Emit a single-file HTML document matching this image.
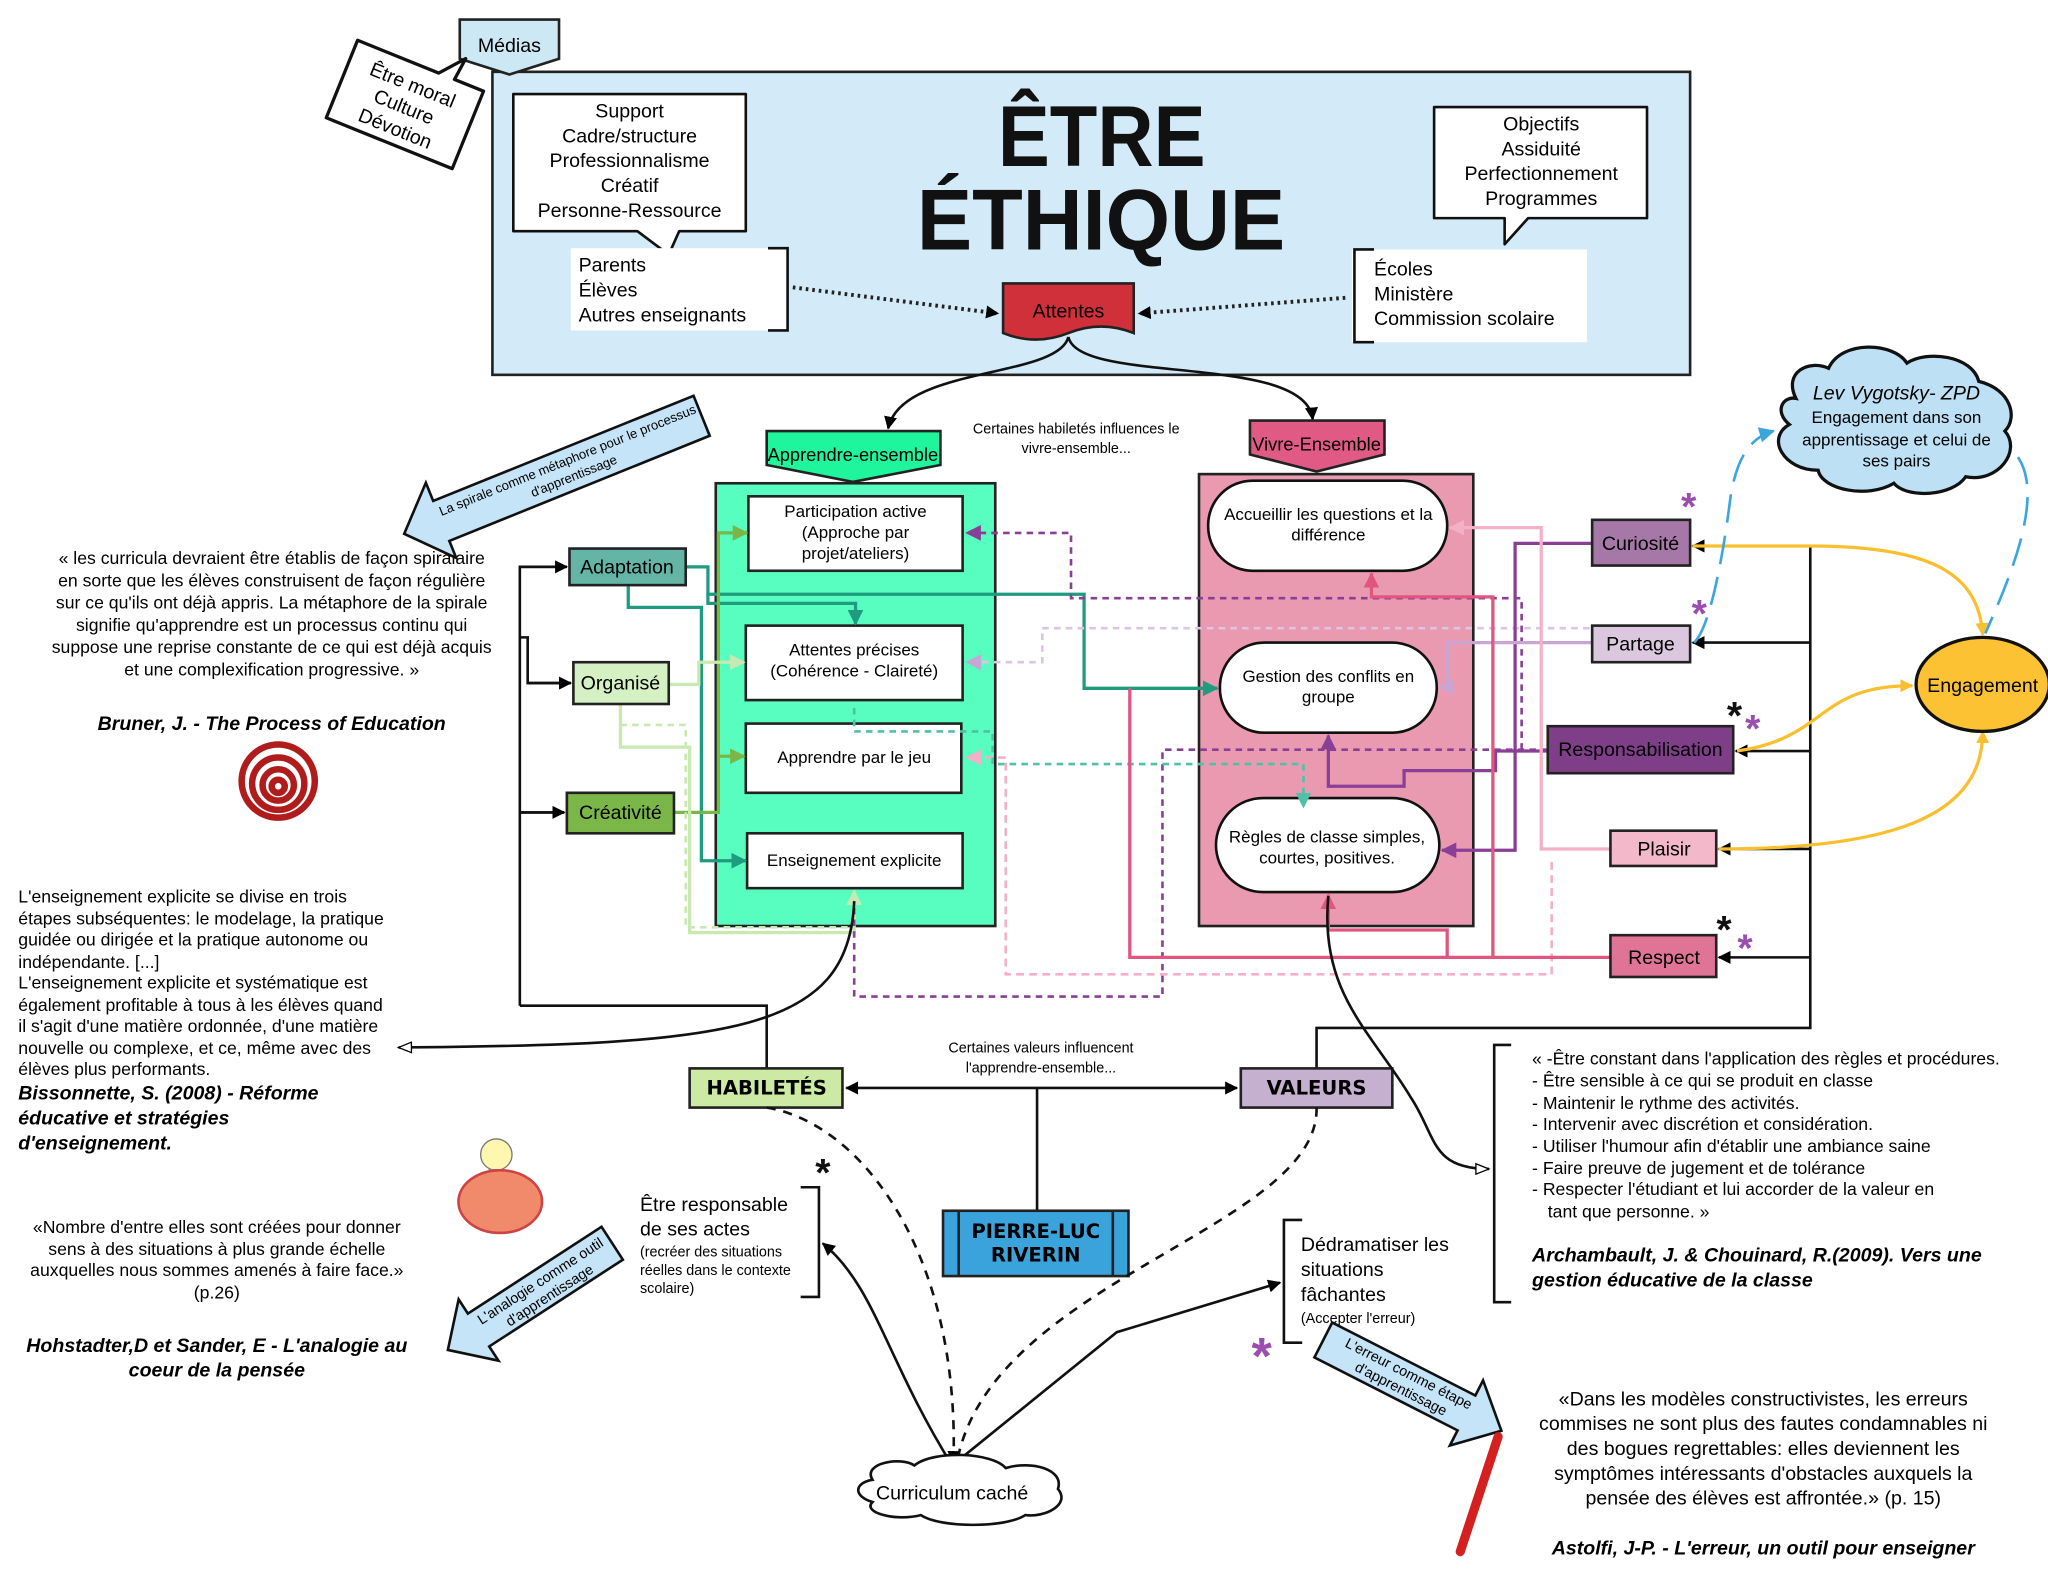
<!DOCTYPE html>
<html><head><meta charset="utf-8"><style>
html,body{margin:0;padding:0;background:#fff;}
svg{display:block;font-family:"Liberation Sans",Arial,sans-serif;}
</style></head><body>
<svg width="2048" height="1583" viewBox="0 0 1568 1212" xmlns="http://www.w3.org/2000/svg">
<defs>
<marker id="ak" markerWidth="10" markerHeight="10" refX="9" refY="5" orient="auto" markerUnits="userSpaceOnUse"><path d="M0,0 L10,5 L0,10 z" fill="#000"/></marker>
<marker id="ao" markerWidth="12" markerHeight="10" refX="11" refY="5" orient="auto" markerUnits="userSpaceOnUse"><path d="M1,1 L11,5 L1,9 z" fill="#fff" stroke="#000"/></marker>
<marker id="ay" markerWidth="10" markerHeight="10" refX="9" refY="5" orient="auto" markerUnits="userSpaceOnUse"><path d="M0,0 L10,5 L0,10 z" fill="#f9bf2e"/></marker>
<marker id="at" markerWidth="12" markerHeight="12" refX="11" refY="6" orient="auto" markerUnits="userSpaceOnUse"><path d="M0,0 L12,6 L0,12 z" fill="#1f9b80"/></marker>
<marker id="ag" markerWidth="12" markerHeight="12" refX="11" refY="6" orient="auto" markerUnits="userSpaceOnUse"><path d="M0,0 L12,6 L0,12 z" fill="#7ab648"/></marker>
<marker id="alg" markerWidth="12" markerHeight="12" refX="11" refY="6" orient="auto" markerUnits="userSpaceOnUse"><path d="M0,0 L12,6 L0,12 z" fill="#c9e9b3"/></marker>
<marker id="ap" markerWidth="12" markerHeight="12" refX="11" refY="6" orient="auto" markerUnits="userSpaceOnUse"><path d="M0,0 L12,6 L0,12 z" fill="#8a3f96"/></marker>
<marker id="alp" markerWidth="12" markerHeight="12" refX="11" refY="6" orient="auto" markerUnits="userSpaceOnUse"><path d="M0,0 L12,6 L0,12 z" fill="#c9a5d3"/></marker>
<marker id="ar" markerWidth="12" markerHeight="12" refX="11" refY="6" orient="auto" markerUnits="userSpaceOnUse"><path d="M0,0 L12,6 L0,12 z" fill="#e0567f"/></marker>
<marker id="apk" markerWidth="12" markerHeight="12" refX="11" refY="6" orient="auto" markerUnits="userSpaceOnUse"><path d="M0,0 L12,6 L0,12 z" fill="#f5b0c8"/></marker>
<marker id="atl" markerWidth="12" markerHeight="12" refX="11" refY="6" orient="auto" markerUnits="userSpaceOnUse"><path d="M0,0 L12,6 L0,12 z" fill="#4fc1a6"/></marker>
<marker id="ab" markerWidth="12" markerHeight="12" refX="11" refY="6" orient="auto" markerUnits="userSpaceOnUse"><path d="M0,0 L12,6 L0,12 z" fill="#3aa6dd"/></marker>
</defs>

<rect x="377" y="55" width="917" height="232" fill="#d3eaf8" stroke="#222" stroke-width="2"/>
<path d="M352,15 L428,15 L428,45 L390,57 L352,45 z" fill="#cde8f5" stroke="#222" stroke-width="2"/>
<text x="390" y="40" font-size="15" text-anchor="middle">Médias</text>
<g transform="rotate(22 310 80)">
<path d="M258,48 L325,48 L340,30 L338,48 L362,48 L362,112 L258,112 z" fill="#fff" stroke="#111" stroke-width="2.5" stroke-linejoin="round"/>
<text x="310" y="69" font-size="15" text-anchor="middle">Être moral</text>
<text x="310" y="87" font-size="15" text-anchor="middle">Culture</text>
<text x="310" y="105" font-size="15" text-anchor="middle">Dévotion</text>
</g>
<path d="M393,72 L571,72 L571,177 L520,177 L512,195 L488,177 L393,177 z" fill="#fff" stroke="#111" stroke-width="2" stroke-linejoin="round"/>
<g font-size="15" text-anchor="middle"><text x="482" y="90">Support</text><text x="482" y="109">Cadre/structure</text><text x="482" y="128">Professionnalisme</text><text x="482" y="147">Créatif</text><text x="482" y="166">Personne-Ressource</text></g>
<rect x="437" y="190" width="166" height="63" fill="#fff"/>
<path d="M588,190 L603,190 L603,253 L588,253" fill="none" stroke="#111" stroke-width="2"/>
<g font-size="15"><text x="443" y="208">Parents</text><text x="443" y="227">Élèves</text><text x="443" y="246">Autres enseignants</text></g>
<g font-weight="bold" font-size="66" fill="#111"><text x="764" y="127" textLength="159" lengthAdjust="spacingAndGlyphs">ÊTRE</text><text x="702" y="191" textLength="282" lengthAdjust="spacingAndGlyphs">ÉTHIQUE</text></g>
<path d="M1098,82 L1261,82 L1261,167 L1170,167 L1152,187 L1152,167 L1098,167 z" fill="#fff" stroke="#111" stroke-width="2" stroke-linejoin="round"/>
<g font-size="15" text-anchor="middle"><text x="1180" y="100">Objectifs</text><text x="1180" y="119">Assiduité</text><text x="1180" y="138">Perfectionnement</text><text x="1180" y="157">Programmes</text></g>
<rect x="1035" y="191" width="180" height="71" fill="#fff"/>
<path d="M1052,191 L1037,191 L1037,262 L1052,262" fill="none" stroke="#111" stroke-width="2"/>
<g font-size="15"><text x="1052" y="211">Écoles</text><text x="1052" y="230">Ministère</text><text x="1052" y="249">Commission scolaire</text></g>
<path d="M768,217 L868,217 L868,255 Q843,245 818,255 Q793,265 768,255 z" fill="#d0303a" stroke="#222" stroke-width="2"/>
<text x="818" y="243" font-size="15" text-anchor="middle">Attentes</text>
<path d="M607,220 L764,240" stroke="#222" stroke-width="3" stroke-dasharray="2,3" fill="none" marker-end="url(#ak)"/>
<path d="M1030,228 L872,240" stroke="#222" stroke-width="3" stroke-dasharray="2,3" fill="none" marker-end="url(#ak)"/>
<path d="M818,258 C810,290 690,280 680,328" stroke="#111" stroke-width="2" fill="none" marker-end="url(#ak)"/>
<path d="M818,258 C826,295 1000,270 1005,321" stroke="#111" stroke-width="2" fill="none" marker-end="url(#ak)"/>

<path d="M587,330 L720,330 L720,356 L653,369 L587,356 z" fill="#1ef59c" stroke="#222" stroke-width="2"/>
<text x="653" y="353" font-size="14" text-anchor="middle">Apprendre-ensemble</text>
<g font-size="11" text-anchor="middle"><text x="824" y="332">Certaines habiletés influences le</text><text x="824" y="347">vivre-ensemble...</text></g>
<path d="M957,322 L1060,322 L1060,348 L1008,361 L957,348 z" fill="#e05a85" stroke="#222" stroke-width="2"/>
<text x="1008" y="345" font-size="14" text-anchor="middle">Vivre-Ensemble</text>

<rect x="548" y="370" width="214" height="339" fill="#58fdc0" stroke="#222" stroke-width="2"/>
<rect x="573" y="380" width="164" height="57" fill="#fff" stroke="#222" stroke-width="2"/>
<g font-size="13" text-anchor="middle"><text x="655" y="396">Participation active</text><text x="655" y="412">(Approche par</text><text x="655" y="428">projet/ateliers)</text></g>
<rect x="571" y="479" width="166" height="57" fill="#fff" stroke="#222" stroke-width="2"/>
<g font-size="13" text-anchor="middle"><text x="654" y="502">Attentes précises</text><text x="654" y="518">(Cohérence - Claireté)</text></g>
<rect x="571" y="554" width="165" height="53" fill="#fff" stroke="#222" stroke-width="2"/>
<text x="654" y="584" font-size="13" text-anchor="middle">Apprendre par le jeu</text>
<rect x="572" y="638" width="165" height="42" fill="#fff" stroke="#222" stroke-width="2"/>
<text x="654" y="663" font-size="13" text-anchor="middle">Enseignement explicite</text>

<rect x="918" y="363" width="210" height="346" fill="#e99ab0" stroke="#222" stroke-width="2"/>
<rect x="925" y="368" width="183" height="69" rx="34" fill="#fff" stroke="#111" stroke-width="2"/>
<g font-size="13" text-anchor="middle"><text x="1017" y="398">Accueillir les questions et la</text><text x="1017" y="414">différence</text></g>
<rect x="934" y="492" width="166" height="69" rx="34" fill="#fff" stroke="#111" stroke-width="2"/>
<g font-size="13" text-anchor="middle"><text x="1017" y="522">Gestion des conflits en</text><text x="1017" y="538">groupe</text></g>
<rect x="931" y="611" width="171" height="72" rx="36" fill="#fff" stroke="#111" stroke-width="2"/>
<g font-size="13" text-anchor="middle"><text x="1016" y="645">Règles de classe simples,</text><text x="1016" y="661">courtes, positives.</text></g>

<path d="M525,434 L542,434 L542,455 L830,455 L830,527 L932,527" stroke="#1f9b80" stroke-width="2.5" fill="none" marker-end="url(#at)"/>
<path d="M542,455 L542,462 L655,462 L655,478" stroke="#1f9b80" stroke-width="2.5" fill="none" marker-end="url(#at)"/>
<path d="M481,448 L481,465 L537,465 L537,659 L571,659" stroke="#1f9b80" stroke-width="2.5" fill="none" marker-end="url(#at)"/>
<path d="M516,622 L550,622 L550,408 L572,408" stroke="#7ab648" stroke-width="2.5" fill="none" marker-end="url(#ag)"/>
<path d="M550,579 L570,579" stroke="#7ab648" stroke-width="2.5" fill="none" marker-end="url(#ag)"/>
<path d="M512,524 L535,524 L535,507 L570,507" stroke="#c9e9b3" stroke-width="2.5" fill="none" marker-end="url(#alg)"/>
<path d="M475,539 L475,572 L528,572 L528,714 L654,714 L654,682" stroke="#c9e9b3" stroke-width="2.5" fill="none" marker-end="url(#alg)"/>
<path d="M475,555 L525,555 L525,710 L654,710" stroke="#c9e9b3" stroke-width="2" stroke-dasharray="5,4" fill="none"/>
<path d="M1185,574 L890,574 L890,763 L654,763 L654,690" stroke="#8a3f96" stroke-width="2" stroke-dasharray="5,4" fill="none"/>
<path d="M1165,574 L1165,458 L820,458 L820,408 L765,408 L740,408" stroke="#8a3f96" stroke-width="2" stroke-dasharray="5,4" fill="none" marker-end="url(#ap)"/>
<path d="M1217,481 L798,481 L798,507 L740,507" stroke="#dcc4e3" stroke-width="2" stroke-dasharray="5,4" fill="none" marker-end="url(#alp)"/>
<path d="M1188,660 L1188,746 L770,746 L770,580 L740,580" stroke="#f5b0c8" stroke-width="2" stroke-dasharray="6,4" fill="none" marker-end="url(#apk)"/>
<path d="M654,542 L654,560 L760,560 L760,585 L998,585 L998,618" stroke="#4fc1a6" stroke-width="2" stroke-dasharray="5,4" fill="none" marker-end="url(#atl)"/>
<path d="M1219,416 L1160,416 L1160,651 L1104,651" stroke="#8a3f96" stroke-width="2.5" fill="none" marker-end="url(#ap)"/>
<path d="M1185,575 L1145,575 L1145,590 L1075,590 L1075,602 L1017,602 L1017,563" stroke="#8a3f96" stroke-width="2.5" fill="none" marker-end="url(#ap)"/>
<path d="M1219,492 L1108,492 L1108,526 L1102,526" stroke="#c9a5d3" stroke-width="2.5" fill="none" marker-end="url(#alp)"/>
<path d="M1233,650 L1180,650 L1180,404 L1110,404" stroke="#f5b0c8" stroke-width="2.5" fill="none" marker-end="url(#apk)"/>
<path d="M1233,733 L865,733 L865,527" stroke="#e0567f" stroke-width="2.5" fill="none"/>
<path d="M1143,733 L1143,457 L1050,457 L1050,439" stroke="#e0567f" stroke-width="2.5" fill="none" marker-end="url(#ar)"/>
<path d="M1108,733 L1108,712 L1017,712 L1017,685" stroke="#e0567f" stroke-width="2.5" fill="none" marker-end="url(#ar)"/>

<path d="M398,770 L398,434 L434,434 M398,488 L404,488 L404,523 L437,523 M398,622 L432,622 M398,770 L587,770 L587,818" stroke="#111" stroke-width="2" fill="none"/>
<path d="M398,434 L434,434" stroke="#111" stroke-width="2" marker-end="url(#ak)"/>
<path d="M404,523 L437,523" stroke="#111" stroke-width="2" marker-end="url(#ak)"/>
<path d="M398,622 L432,622" stroke="#111" stroke-width="2" marker-end="url(#ak)"/>
<rect x="436" y="420" width="89" height="28" fill="#64b5a6" stroke="#222" stroke-width="2"/><text x="480" y="439" font-size="15" text-anchor="middle">Adaptation</text>
<rect x="439" y="507" width="73" height="32" fill="#d5f0c3" stroke="#222" stroke-width="2"/><text x="475" y="528" font-size="15" text-anchor="middle">Organisé</text>
<rect x="434" y="607" width="82" height="31" fill="#7ab648" stroke="#222" stroke-width="2"/><text x="475" y="627" font-size="15" text-anchor="middle">Créativité</text>

<path d="M1386,418 L1386,787 L1008,787 L1008,818" stroke="#111" stroke-width="2" fill="none"/>
<path d="M1386,418 L1296,418" stroke="#111" stroke-width="2" marker-end="url(#ak)"/>
<path d="M1386,492 L1296,492" stroke="#111" stroke-width="2" marker-end="url(#ak)"/>
<path d="M1386,575 L1329,575" stroke="#111" stroke-width="2" marker-end="url(#ak)"/>
<path d="M1386,650 L1316,650" stroke="#111" stroke-width="2" marker-end="url(#ak)"/>
<path d="M1386,733 L1316,733" stroke="#111" stroke-width="2" marker-end="url(#ak)"/>
<rect x="1219" y="398" width="75" height="35" fill="#a678a8" stroke="#222" stroke-width="2"/><text x="1256" y="421" font-size="15" text-anchor="middle">Curiosité</text>
<rect x="1219" y="479" width="75" height="28" fill="#dcc8de" stroke="#222" stroke-width="2"/><text x="1256" y="498" font-size="15" text-anchor="middle">Partage</text>
<rect x="1185" y="556" width="142" height="36" fill="#7f3f88" stroke="#222" stroke-width="2"/><text x="1256" y="579" font-size="15" text-anchor="middle">Responsabilisation</text>
<rect x="1233" y="636" width="81" height="27" fill="#f4b8cb" stroke="#222" stroke-width="2"/><text x="1274" y="655" font-size="15" text-anchor="middle">Plaisir</text>
<rect x="1233" y="716" width="81" height="32" fill="#e07496" stroke="#222" stroke-width="2"/><text x="1274" y="738" font-size="15" text-anchor="middle">Respect</text>
<path d="M1296,418 L1386,418 C1480,418 1515,440 1518,486" stroke="#f9bf2e" stroke-width="2.5" fill="none" marker-end="url(#ay)"/>
<path d="M1330,575 C1400,565 1390,525 1464,525" stroke="#f9bf2e" stroke-width="2.5" fill="none" marker-end="url(#ay)"/>
<path d="M1316,650 C1460,650 1518,620 1518,560" stroke="#f9bf2e" stroke-width="2.5" fill="none" marker-end="url(#ay)"/>
<ellipse cx="1518" cy="524" rx="51" ry="36" fill="#fcc233" stroke="#111" stroke-width="2.5"/>
<text x="1518" y="530" font-size="15" text-anchor="middle">Engagement</text>
<path d="M1375,305 C1365,285 1385,275 1400,282 C1410,260 1450,262 1460,278 C1475,268 1510,272 1515,292 C1540,298 1545,320 1535,330 C1548,345 1530,370 1505,365 C1495,380 1460,382 1450,370 C1430,382 1395,375 1392,360 C1365,360 1352,335 1370,325 C1358,315 1365,303 1375,305 z" fill="#bde0f5" stroke="#111" stroke-width="2.5"/>
<text x="1452" y="306" font-size="15" font-style="italic" text-anchor="middle">Lev Vygotsky- ZPD</text>
<g font-size="13" text-anchor="middle"><text x="1452" y="324">Engagement dans son</text><text x="1452" y="341">apprentissage et celui de</text><text x="1452" y="357">ses pairs</text></g>
<path d="M1297,492 C1310,480 1320,420 1325,380 C1330,350 1340,335 1358,330" stroke="#3aa6dd" stroke-width="2" stroke-dasharray="22,10" fill="none" marker-end="url(#ab)"/>
<path d="M1545,350 C1565,380 1540,440 1520,485" stroke="#3aa6dd" stroke-width="2" stroke-dasharray="22,10" fill="none"/>
<g font-size="30" font-weight="bold" fill="#9b4db0" text-anchor="middle"><text x="1293" y="398">*</text><text x="1301" y="480">*</text><text x="1342" y="568">*</text><text x="1336" y="736">*</text><text x="966" y="1052" font-size="40">*</text></g>
<g font-size="30" font-weight="bold" fill="#111" text-anchor="middle"><text x="1328" y="558">*</text><text x="1320" y="722">*</text><text x="630" y="908">*</text></g>

<g font-size="13.5" text-anchor="middle"><text x="208" y="432">« les curricula devraient être établis de façon spiralaire</text><text x="208" y="449">en sorte que les élèves construisent de façon régulière</text><text x="208" y="466">sur ce qu'ils ont déjà appris. La métaphore de la spirale</text><text x="208" y="483">signifie qu'apprendre est un processus continu qui</text><text x="208" y="500">suppose une reprise constante de ce qui est déjà acquis</text><text x="208" y="517">et une complexification progressive. »</text></g>
<text x="208" y="559" font-size="15" font-weight="bold" font-style="italic" text-anchor="middle">Bruner, J. - The Process of Education</text>
<g fill="none" stroke="#b01c1c" stroke-width="5"><circle cx="213" cy="598" r="28"/><circle cx="213" cy="600" r="20"/><circle cx="213" cy="601" r="12"/><circle cx="213" cy="602" r="5"/></g>
<g transform="rotate(-22 430 360)"><path d="M300,360 L330,330 L330,345 L545,345 L545,378 L330,378 L330,392 z" fill="#c5e4f7" stroke="#111" stroke-width="2"/>
<text x="437" y="358" font-size="10" text-anchor="middle">La spirale comme métaphore pour le processus</text><text x="437" y="371" font-size="10" text-anchor="middle">d'apprentissage</text></g>

<g font-size="13.5"><text x="14" y="691">L'enseignement explicite se divise en trois</text><text x="14" y="708">étapes subséquentes: le modelage, la pratique</text><text x="14" y="724">guidée ou dirigée et la pratique autonome ou</text><text x="14" y="741">indépendante. [...]</text><text x="14" y="757">L'enseignement explicite et systématique est</text><text x="14" y="774">également profitable à tous à les élèves quand</text><text x="14" y="790">il s'agit d'une matière ordonnée, d'une matière</text><text x="14" y="807">nouvelle ou complexe, et ce, même avec des</text><text x="14" y="823">élèves plus performants.</text></g>
<g font-size="15" font-weight="bold" font-style="italic"><text x="14" y="842">Bissonnette, S. (2008) - Réforme</text><text x="14" y="861">éducative et stratégies</text><text x="14" y="880">d'enseignement.</text></g>
<path d="M654,690 C650,790 560,800 305,802" stroke="#111" stroke-width="2" fill="none" marker-end="url(#ao)"/>
<circle cx="380" cy="884" r="12" fill="#fff7b0" stroke="#777"/>
<rect x="374" y="895" width="12" height="10" fill="#888"/>
<ellipse cx="383" cy="920" rx="32" ry="24" fill="#f08a6a" stroke="#c44" stroke-width="2"/>
<g font-size="13.5" text-anchor="middle"><text x="166" y="944">«Nombre d'entre elles sont créées pour donner</text><text x="166" y="961">sens à des situations à plus grande échelle</text><text x="166" y="977">auxquelles nous sommes amenés à faire face.»</text><text x="166" y="994">(p.26)</text></g>
<g font-size="15" font-weight="bold" font-style="italic" text-anchor="middle"><text x="166" y="1035">Hohstadter,D et Sander, E - L'analogie au</text><text x="166" y="1054">coeur de la pensée</text></g>
<g transform="rotate(-33 410 990)"><path d="M330,990 L358,962 L358,975 L480,975 L480,1005 L358,1005 L358,1018 z" fill="#c5e4f7" stroke="#111" stroke-width="2"/>
<text x="418" y="988" font-size="11" text-anchor="middle">L'analogie comme outil</text><text x="418" y="1001" font-size="11" text-anchor="middle">d'apprentissage</text></g>

<g font-size="11" text-anchor="middle"><text x="797" y="806">Certaines valeurs influencent</text><text x="797" y="821">l'apprendre-ensemble...</text></g>
<path d="M794,833 L648,833" stroke="#111" stroke-width="2" marker-end="url(#ak)"/>
<path d="M794,833 L947,833" stroke="#111" stroke-width="2" marker-end="url(#ak)"/>
<path d="M794,833 L794,927" stroke="#111" stroke-width="2"/>
<rect x="528" y="818" width="117" height="30" fill="#cdeaa5" stroke="#222" stroke-width="2"/><text x="587" y="838" font-size="15" font-weight="bold" text-anchor="middle" font-family="'DejaVu Sans',sans-serif">HABILETÉS</text>
<rect x="950" y="818" width="116" height="30" fill="#c6b0d0" stroke="#222" stroke-width="2"/><text x="1008" y="838" font-size="15" font-weight="bold" text-anchor="middle" font-family="'DejaVu Sans',sans-serif">VALEURS</text>
<rect x="722" y="927" width="142" height="50" fill="#3ba3dc" stroke="#222" stroke-width="2"/>
<path d="M734,927 L734,977 M852,927 L852,977" stroke="#222" stroke-width="2"/>
<g font-size="15" font-weight="bold" text-anchor="middle" font-family="'DejaVu Sans',sans-serif"><text x="793" y="948">PIERRE-LUC</text><text x="793" y="966">RIVERIN</text></g>
<g font-size="15"><text x="490" y="927">Être responsable</text><text x="490" y="946">de ses actes</text></g>
<g font-size="11"><text x="490" y="962">(recréer des situations</text><text x="490" y="976">réelles dans le contexte</text><text x="490" y="990">scolaire)</text></g>
<path d="M613,909 L627,909 L627,993 L613,993" stroke="#111" stroke-width="2" fill="none"/>
<path d="M997,934 L983,934 L983,1028 L997,1028" stroke="#111" stroke-width="2" fill="none"/>
<g font-size="15"><text x="996" y="958">Dédramatiser les</text><text x="996" y="977">situations</text><text x="996" y="996">fâchantes</text></g>
<text x="996" y="1013" font-size="11">(Accepter l'erreur)</text>
<path d="M729,1122 C678,1040 670,985 630,952" stroke="#111" stroke-width="2" fill="none" marker-end="url(#ak)"/>
<path d="M729,1122 L855,1020 L980,982" stroke="#111" stroke-width="2" fill="none" marker-end="url(#ak)"/>
<path d="M587,848 C660,860 735,960 730,1120" stroke="#111" stroke-width="2" stroke-dasharray="7,6" fill="none" marker-end="url(#ak)"/>
<path d="M1008,848 C1010,940 760,980 733,1118" stroke="#111" stroke-width="2" stroke-dasharray="7,6" fill="none"/>
<path d="M1017,686 C1010,760 1050,790 1080,840 C1100,870 1095,895 1140,895" stroke="#111" stroke-width="2" fill="none" marker-end="url(#ao)"/>
<path d="M668,1133 C660,1120 690,1115 700,1122 C715,1110 760,1112 770,1124 C790,1118 815,1125 810,1140 C820,1152 800,1162 785,1160 C770,1170 720,1170 705,1160 C685,1165 660,1158 668,1150 C652,1145 655,1135 668,1133 z" fill="#fff" stroke="#111" stroke-width="2"/>
<text x="729" y="1148" font-size="15" text-anchor="middle">Curriculum caché</text>

<path d="M1157,800 L1144,800 L1144,997 L1157,997" stroke="#111" stroke-width="2" fill="none"/>
<g font-size="13.5"><text x="1173" y="815">« -Être constant dans l'application des règles et procédures.</text><text x="1173" y="832">- Être sensible à ce qui se produit en classe</text><text x="1173" y="849">- Maintenir le rythme des activités.</text><text x="1173" y="865">- Intervenir avec discrétion et considération.</text><text x="1173" y="882">- Utiliser l'humour afin d'établir une ambiance saine</text><text x="1173" y="899">- Faire preuve de jugement et de tolérance</text><text x="1173" y="915">- Respecter l'étudiant et lui accorder de la valeur en</text><text x="1185" y="932">tant que personne. »</text></g>
<g font-size="15" font-weight="bold" font-style="italic"><text x="1173" y="966">Archambault, J. &amp; Chouinard, R.(2009). Vers une</text><text x="1173" y="985">gestion éducative de la classe</text></g>
<g transform="rotate(27 1080 1060)"><path d="M1005,1045 L1128,1045 L1128,1032 L1158,1060 L1128,1088 L1128,1075 L1005,1075 z" fill="#c5e4f7" stroke="#111" stroke-width="2"/>
<text x="1075" y="1057" font-size="11" text-anchor="middle">L'erreur comme étape</text><text x="1075" y="1070" font-size="11" text-anchor="middle">d'apprentissage</text></g>
<path d="M1147,1100 L1118,1188" stroke="#d42020" stroke-width="7" stroke-linecap="round"/>
<g font-size="15" text-anchor="middle"><text x="1350" y="1076">«Dans les modèles constructivistes, les erreurs</text><text x="1350" y="1095">commises ne sont plus des fautes condamnables ni</text><text x="1350" y="1114">des bogues regrettables: elles deviennent les</text><text x="1350" y="1133">symptômes intéressants d'obstacles auxquels la</text><text x="1350" y="1152">pensée des élèves est affrontée.» (p. 15)</text></g>
<text x="1350" y="1190" font-size="15" font-weight="bold" font-style="italic" text-anchor="middle">Astolfi, J-P. - L'erreur, un outil pour enseigner</text>
</svg>
</body></html>
